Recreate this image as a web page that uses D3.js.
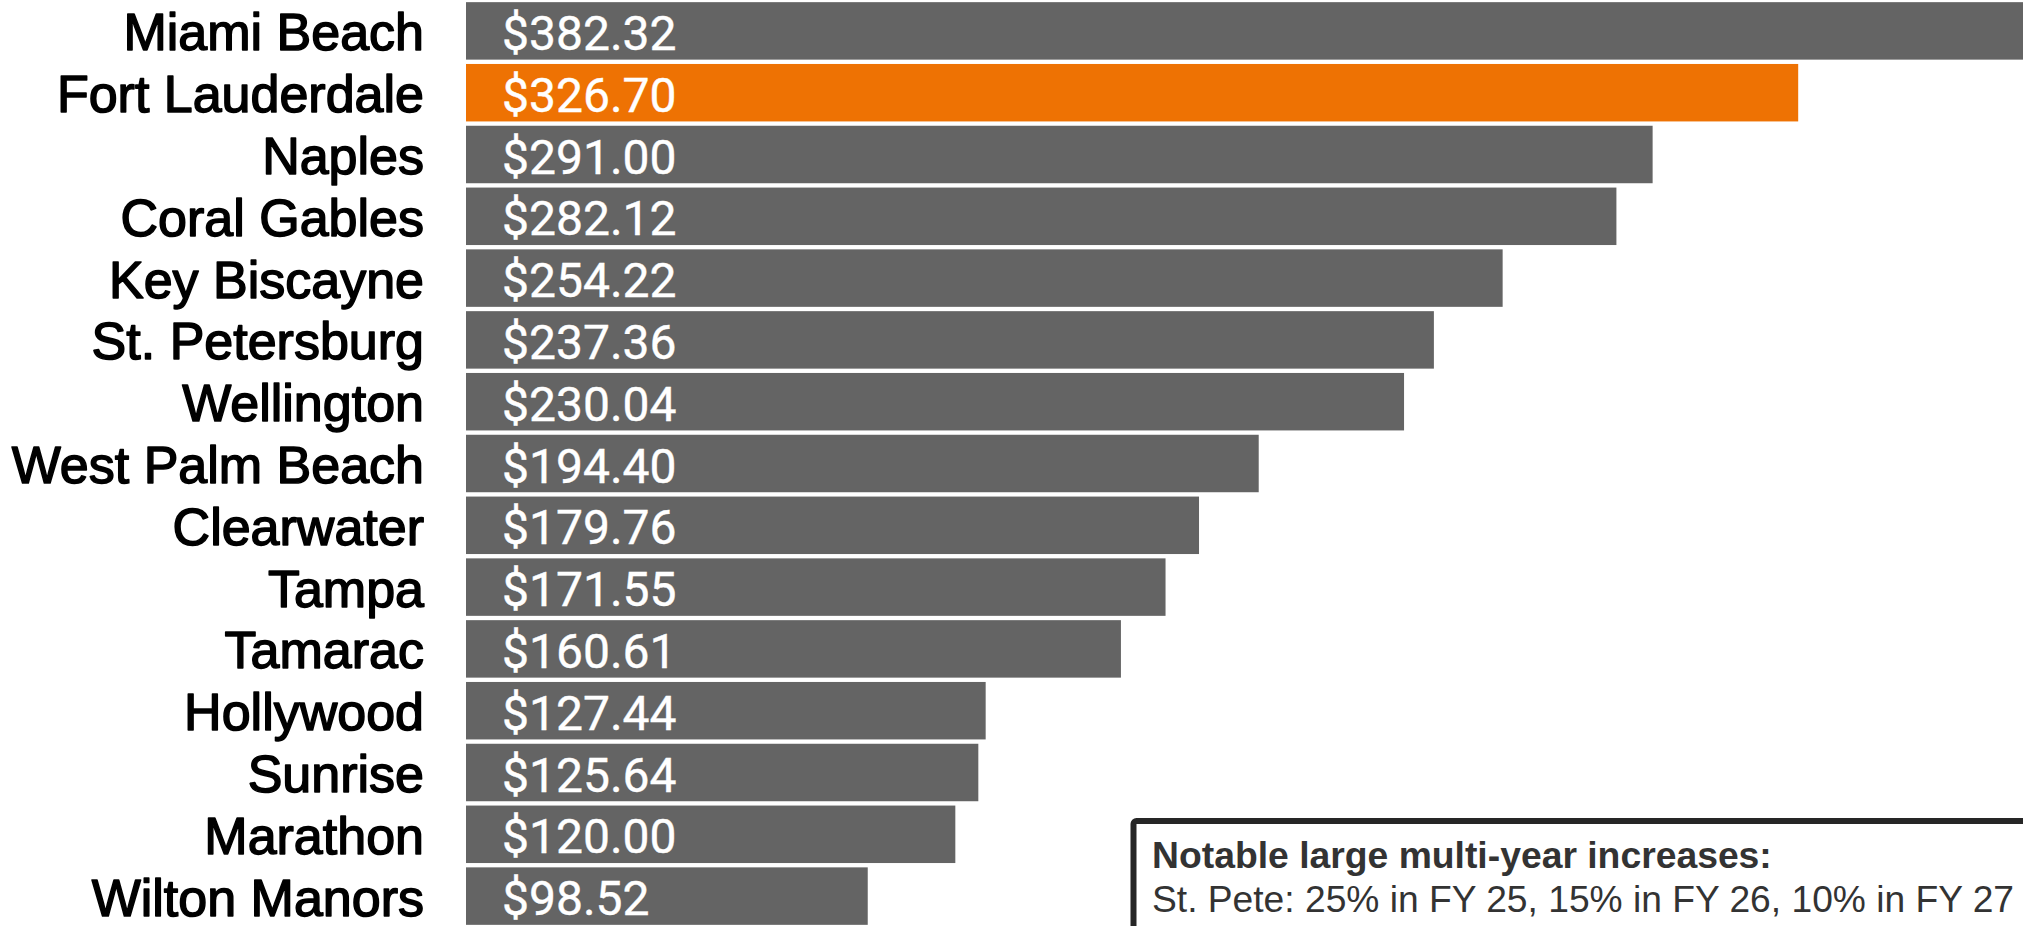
<!DOCTYPE html>
<html>
<head>
<meta charset="utf-8">
<script src="https://cdn.jsdelivr.net/npm/d3@7"></script>
<style>
  html, body { margin: 0; padding: 0; background: #ffffff; overflow: hidden; }
  svg { display: block; }
</style>
</head>
<body>
<svg id="chart" width="2023" height="926"></svg>
<script>
// Monthly solid-waste / utility rate by city (USD)
const cities = [
  "Miami Beach", "Fort Lauderdale", "Naples", "Coral Gables", "Key Biscayne",
  "St. Petersburg", "Wellington", "West Palm Beach", "Clearwater", "Tampa",
  "Tamarac", "Hollywood", "Sunrise", "Marathon", "Wilton Manors"
];
const rates = [
  382.32, 326.70, 291.00, 282.12, 254.22,
  237.36, 230.04, 194.40, 179.76, 171.55,
  160.61, 127.44, 125.64, 120.00, 98.52
];
const highlightCity = "Fort Lauderdale";

const noteTitle = "Notable large multi-year increases:";
const noteLines = ["St. Pete: 25% in FY 25, 15% in FY 26, 10% in FY 27"];

const svg = d3.select("#chart");

const rows = cities.map((c, i) => ({ city: c, value: rates[i] }));

const x = d3.scaleLinear()
  .domain([0, d3.max(rates)])
  .range([466, 2025]);

const y = d3.scaleBand()
  .domain(cities)
  .range([0, 927])
  .paddingInner(0.07)
  .paddingOuter(0.035);

const GRAY = "#646464", ORANGE = "#EE7203";

// bars
svg.append("g").selectAll("rect")
  .data(rows)
  .join("rect")
  .attr("x", x(0))
  .attr("y", d => y(d.city))
  .attr("width", d => x(d.value) - x(0))
  .attr("height", y.bandwidth())
  .attr("fill", d => d.city === highlightCity ? ORANGE : GRAY);

// city names (regular face, thickened with a thin outline)
svg.append("g").selectAll("text")
  .data(rows)
  .join("text")
  .attr("x", 424)
  .attr("y", d => y(d.city) + y.bandwidth() / 2 + 19.5)
  .attr("text-anchor", "end")
  .attr("font-family", "'Liberation Sans', Arial, sans-serif")
  .attr("font-size", 52)
  .attr("fill", "#000")
  .attr("stroke", "#000")
  .attr("stroke-width", 1.5)
  .attr("stroke-linejoin", "round")
  .text(d => d.city);

// value labels inside bars
const fmt = d3.format(",.2f");
svg.append("g").selectAll("text")
  .data(rows)
  .join("text")
  .attr("x", x(0) + 36)
  .attr("y", d => y(d.city) + y.bandwidth() / 2 + 19)
  .attr("font-family", "Roboto, 'Noto Sans', sans-serif")
  .attr("font-size", 48)
  .attr("fill", "#ffffff")
  .attr("stroke", "#ffffff")
  .attr("stroke-width", 0.4)
  .text(d => "$" + fmt(d.value));

// annotation box
const note = svg.append("g");
note.append("rect")
  .attr("x", 1133.5)
  .attr("y", 821)
  .attr("width", 1000)
  .attr("height", 200)
  .attr("rx", 3)
  .attr("fill", "#ffffff")
  .attr("stroke", "#262626")
  .attr("stroke-width", 6);

note.append("text")
  .attr("x", 1152)
  .attr("y", 868)
  .attr("font-family", "'Liberation Sans', Arial, sans-serif")
  .attr("font-weight", "bold")
  .attr("font-size", 37.3)
  .attr("fill", "#333333")
  .text(noteTitle);

note.selectAll("text.line")
  .data(noteLines)
  .join("text")
  .attr("class", "line")
  .attr("x", 1152)
  .attr("y", (d, i) => 912 + i * 44)
  .attr("font-family", "'Liberation Sans', Arial, sans-serif")
  .attr("font-size", 37.2)
  .attr("fill", "#333333")
  .text(d => d);
</script>
</body>
</html>
